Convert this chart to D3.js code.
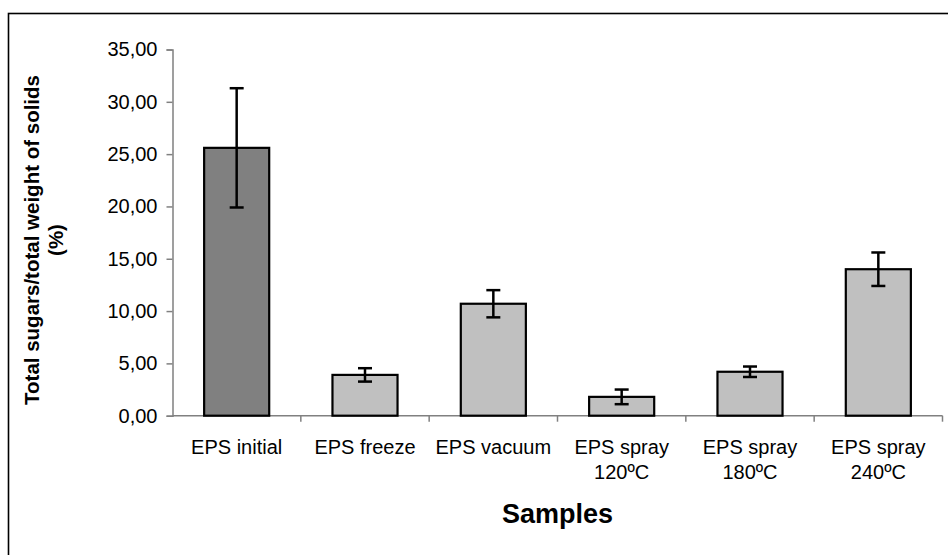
<!DOCTYPE html>
<html>
<head>
<meta charset="utf-8">
<script src="https://cdn.jsdelivr.net/npm/d3@7"></script>
<style>
  html, body { margin: 0; padding: 0; background: #fff; }
  svg { display: block; font-family: "Liberation Sans", Arial, sans-serif; }
</style>
</head>
<body>
<svg id="chart" width="948" height="555"></svg>
<script>
// Sample names (each entry split over lines as printed under the axis)
const categories = [
  ["EPS initial"],
  ["EPS freeze"],
  ["EPS vacuum"],
  ["EPS spray", "120ºC"],
  ["EPS spray", "180ºC"],
  ["EPS spray", "240ºC"]
];
// Mean total sugars / total weight of solids (%)
const values = [25.6, 3.9, 10.7, 1.8, 4.2, 14.0];
// Standard deviations shown as error bars
const errors = [5.7, 0.64, 1.3, 0.7, 0.5, 1.6];
// Y axis tick values
const yTicks = [0, 5, 10, 15, 20, 25, 30, 35];
// Fill per bar: the initial sample is darker
const fills = ["#808080", "#c0c0c0", "#c0c0c0", "#c0c0c0", "#c0c0c0", "#c0c0c0"];

const svg = d3.select("#chart");

// Outer chart frame
svg.append("rect")
  .attr("x", 8.5).attr("y", 13.5)
  .attr("width", 1000).attr("height", 1000)
  .attr("fill", "none").attr("stroke", "#000").attr("stroke-width", 1.6);

const plot = { left: 172.5, right: 942.5, top: 49.5, bottom: 415.7 };

const x = d3.scaleBand()
  .domain(d3.range(categories.length))
  .range([plot.left, plot.right])
  .paddingInner(0.493)
  .paddingOuter(0.2465);

const y = d3.scaleLinear()
  .domain([0, 35])
  .range([plot.bottom, plot.top]);

const locale = d3.formatLocale({ decimal: ",", thousands: ".", grouping: [3], currency: ["", ""] });
const fmt = locale.format(".2f");

// Y axis
const yAxis = svg.append("g")
  .attr("transform", `translate(${plot.left},0)`)
  .call(d3.axisLeft(y).tickValues(yTicks).tickSize(6).tickPadding(9).tickFormat(fmt));
yAxis.select(".domain").attr("stroke", "#808080").attr("stroke-width", 1.5);
yAxis.selectAll(".tick line").attr("stroke", "#808080").attr("stroke-width", 1.5);
yAxis.selectAll(".tick text")
  .attr("fill", "#000")
  .style("font-size", "20px")
  .style("font-family", "'Liberation Sans', Arial, sans-serif");

// X axis line with tick marks at the category boundaries
const step = x.step();
const bounds = d3.range(categories.length + 1).map(i => plot.left + i * step);
svg.append("line")
  .attr("x1", plot.left).attr("x2", plot.right)
  .attr("y1", y(0)).attr("y2", y(0))
  .attr("stroke", "#808080").attr("stroke-width", 1.5);
svg.selectAll(".xtick")
  .data(bounds.slice(1))
  .join("line")
  .attr("class", "xtick")
  .attr("x1", d => d).attr("x2", d => d)
  .attr("y1", y(0)).attr("y2", y(0) + 6)
  .attr("stroke", "#808080").attr("stroke-width", 1.5);

// Category labels
const labels = svg.selectAll(".xlabel")
  .data(categories)
  .join("text")
  .attr("class", "xlabel")
  .attr("text-anchor", "middle")
  .style("font-size", "20px")
  .attr("fill", "#000");
labels.selectAll("tspan")
  .data((d, i) => d.map(t => ({ t, i })))
  .join("tspan")
  .attr("x", d => x(d.i) + x.bandwidth() / 2)
  .attr("y", (d, j) => 454 + j * 25)
  .text(d => d.t);

// Bars
svg.selectAll(".bar")
  .data(values)
  .join("rect")
  .attr("class", "bar")
  .attr("x", (d, i) => x(i))
  .attr("width", x.bandwidth())
  .attr("y", d => y(d))
  .attr("height", d => y(0) - y(d))
  .attr("fill", (d, i) => fills[i])
  .attr("stroke", "#000")
  .attr("stroke-width", 2.2);

// Error bars
const capHalf = 7;
const eb = svg.selectAll(".err")
  .data(values.map((v, i) => ({ v, e: errors[i], i })))
  .join("g")
  .attr("class", "err")
  .attr("stroke", "#000")
  .attr("stroke-width", 2.5);
eb.append("line")
  .attr("x1", d => x(d.i) + x.bandwidth() / 2)
  .attr("x2", d => x(d.i) + x.bandwidth() / 2)
  .attr("y1", d => y(d.v + d.e))
  .attr("y2", d => y(d.v - d.e));
eb.append("line")
  .attr("x1", d => x(d.i) + x.bandwidth() / 2 - capHalf)
  .attr("x2", d => x(d.i) + x.bandwidth() / 2 + capHalf)
  .attr("y1", d => y(d.v + d.e))
  .attr("y2", d => y(d.v + d.e));
eb.append("line")
  .attr("x1", d => x(d.i) + x.bandwidth() / 2 - capHalf)
  .attr("x2", d => x(d.i) + x.bandwidth() / 2 + capHalf)
  .attr("y1", d => y(d.v - d.e))
  .attr("y2", d => y(d.v - d.e));

// Axis titles
svg.append("text")
  .attr("x", (plot.left + plot.right) / 2)
  .attr("y", 523)
  .attr("text-anchor", "middle")
  .style("font-size", "27px")
  .style("font-weight", "bold")
  .text("Samples");

const yTitle = svg.append("text")
  .attr("transform", `translate(39,240) rotate(-90)`)
  .attr("text-anchor", "middle")
  .style("font-size", "20.5px")
  .style("font-weight", "bold");
yTitle.append("tspan").attr("x", 0).attr("y", 0).text("Total sugars/total weight of solids");
yTitle.append("tspan").attr("x", 0).attr("y", 24).text("(%)");
</script>
</body>
</html>
